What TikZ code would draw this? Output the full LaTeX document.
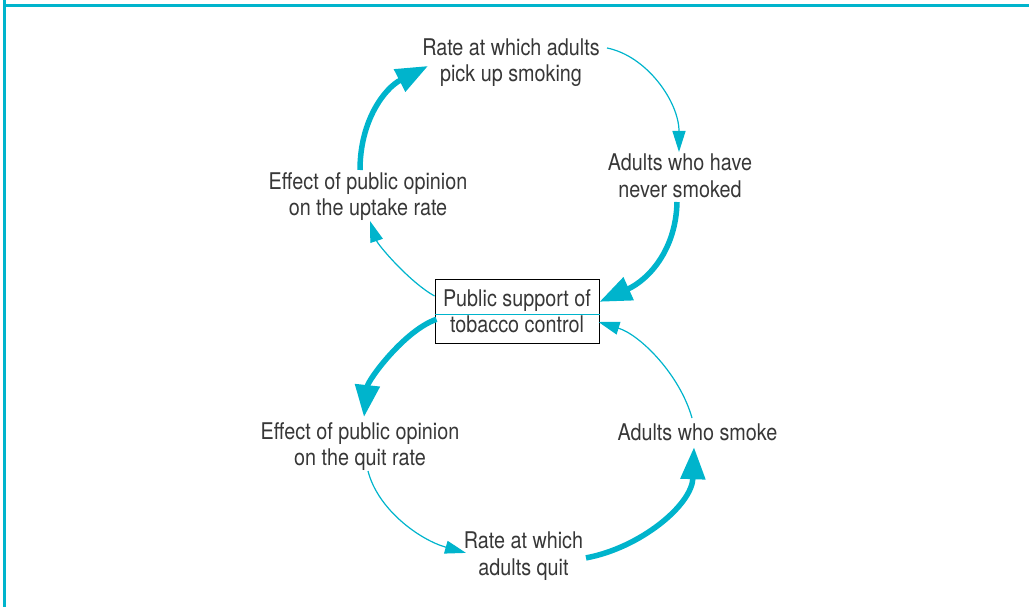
\documentclass[tikz,border=0pt]{standalone}
\usepackage{fontspec}
\setmainfont{TeX Gyre Heros}[FakeStretch=0.86]
\usetikzlibrary{arrows.meta,calc}
\definecolor{tealc}{RGB}{0,180,204}
\definecolor{txtc}{RGB}{55,55,55}
\begin{document}
\begin{tikzpicture}[x=1pt,y=-1pt,
  lbl/.style={font=\fontsize{23}{26.5}\selectfont, text=txtc, align=center, inner sep=0pt},
  thinlink/.style={draw=tealc, line width=1.2pt, -{Triangle[length=21pt,width=13pt]}},
  thicklink/.style={draw=tealc, line width=5.5pt, -{Triangle[length=32pt,width=24pt]}},
  frameline/.style={draw=tealc, line width=3pt}]
\useasboundingbox (0,0) rectangle (1029,607);
% frame
\coordinate (ftl) at (4.2,0);
\coordinate (fbl) at (4.2,607);
\coordinate (ftop1) at (3,5.5);
\coordinate (ftop2) at (1029,5.5);
\draw[frameline] (ftl) -- (fbl);
\draw[frameline] (ftop1) -- (ftop2);
% nodes
\node[lbl] (rpu) at (511,62.5) {Rate at which adults\\pick up smoking};
\node[lbl] (nev) at (680,176) {Adults who have\\never smoked};
\node[lbl] (upt) at (368,196.5) {Effect of public opinion\\on the uptake rate};
\node[lbl, draw=black, line width=1pt, minimum width=164pt, minimum height=64.5pt] (pub) at (517,311.3) {Public support of\\tobacco control};
\node[lbl] (qer) at (360,446.5) {Effect of public opinion\\on the quit rate};
\node[lbl] (smk) at (697.5,432.7) {Adults who smoke};
\node[lbl] (rqt) at (523.5,555.9) {Rate at which\\adults quit};
% line inside box
\draw[tealc, line width=1pt] ([shift={(0,2.7)}]pub.west) -- ([shift={(0,2.7)}]pub.east);
% connectors
\draw[thinlink] ([shift={(96,-14.5)}]rpu.center) .. controls +(40,8) and +(0,-50) .. ([shift={(-1,-24)}]nev.center);
\draw[thicklink] ([shift={(-3,26)}]nev.center) .. controls +(-1,48) and +(49,-22) .. ([shift={(0,-9.5)}]pub.east);
\draw[thinlink] ([shift={(0,-15.3)}]pub.west) .. controls +(-25,-14) and +(8,24) .. ([shift={(2,24.5)}]upt.center);
\draw[thicklink] ([shift={(-8,-26.5)}]upt.center) .. controls +(0,-50) and +(-43,22) .. ([shift={(-83,3.5)}]rpu.center);
\draw[thicklink] ([shift={(2,8)}]pub.west) .. controls +(-32,11) and +(4,-37) .. ([shift={(4,-29.5)}]qer.center);
\draw[thinlink] ([shift={(8,24.5)}]qer.center) .. controls +(10,39) and +(-46,-13) .. ([shift={(-57.5,-3)}]rqt.center);
\draw[thicklink] ([shift={(62.5,2)}]rqt.center) .. controls +(54,-10) and +(-2,58) .. ([shift={(-3.5,14.5)}]smk.center);
\draw[thinlink] ([shift={(-5.5,-14.7)}]smk.center) .. controls +(-12,-43) and +(42,13) .. ([shift={(-1,10.7)}]pub.east);
\end{tikzpicture}
\end{document}
